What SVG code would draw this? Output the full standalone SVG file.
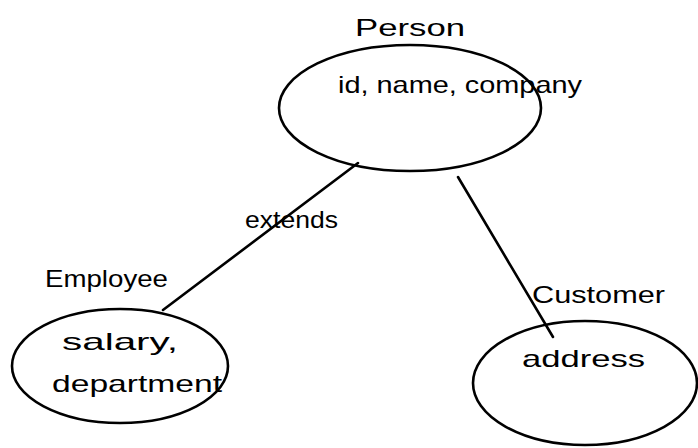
<svg xmlns="http://www.w3.org/2000/svg" width="698" height="448" viewBox="0 0 698 448">
<style>
.shape{fill:none;stroke:#000;stroke-width:2.6}
.edge{fill:none;stroke:#000;stroke-width:2.6;stroke-linecap:round}
text{font-family:"Liberation Sans","DejaVu Sans",sans-serif;fill:#000}
.t{font-size:24px}
</style>
<rect width="698" height="448" fill="#fff"/>
<g id="connectors">
<line class="edge" x1="358" y1="163" x2="163" y2="310"/>
<line class="edge" x1="458" y1="177" x2="553" y2="337"/>
<text class="t" x="245" y="228" textLength="93" lengthAdjust="spacingAndGlyphs">extends</text>
</g>
<g id="person">
<ellipse class="shape" cx="410" cy="108" rx="131" ry="63"/>
<text class="t" x="355" y="36" textLength="110" lengthAdjust="spacingAndGlyphs" font-size="27">Person</text>
<text class="t" x="338" y="93" textLength="244" lengthAdjust="spacingAndGlyphs">id, name, company</text>
</g>
<g id="employee">
<ellipse class="shape" cx="120" cy="366" rx="108" ry="57"/>
<text class="t" x="45" y="287" textLength="123" lengthAdjust="spacingAndGlyphs">Employee</text>
<text class="t" x="62" y="350" textLength="116" lengthAdjust="spacingAndGlyphs">salary,</text>
<text class="t" x="52" y="392" textLength="170" lengthAdjust="spacingAndGlyphs">department</text>
</g>
<g id="customer">
<ellipse class="shape" cx="585" cy="383" rx="112" ry="62"/>
<text class="t" x="532" y="303" textLength="133" lengthAdjust="spacingAndGlyphs">Customer</text>
<text class="t" x="522" y="367" textLength="123" lengthAdjust="spacingAndGlyphs">address</text>
</g>
</svg>
